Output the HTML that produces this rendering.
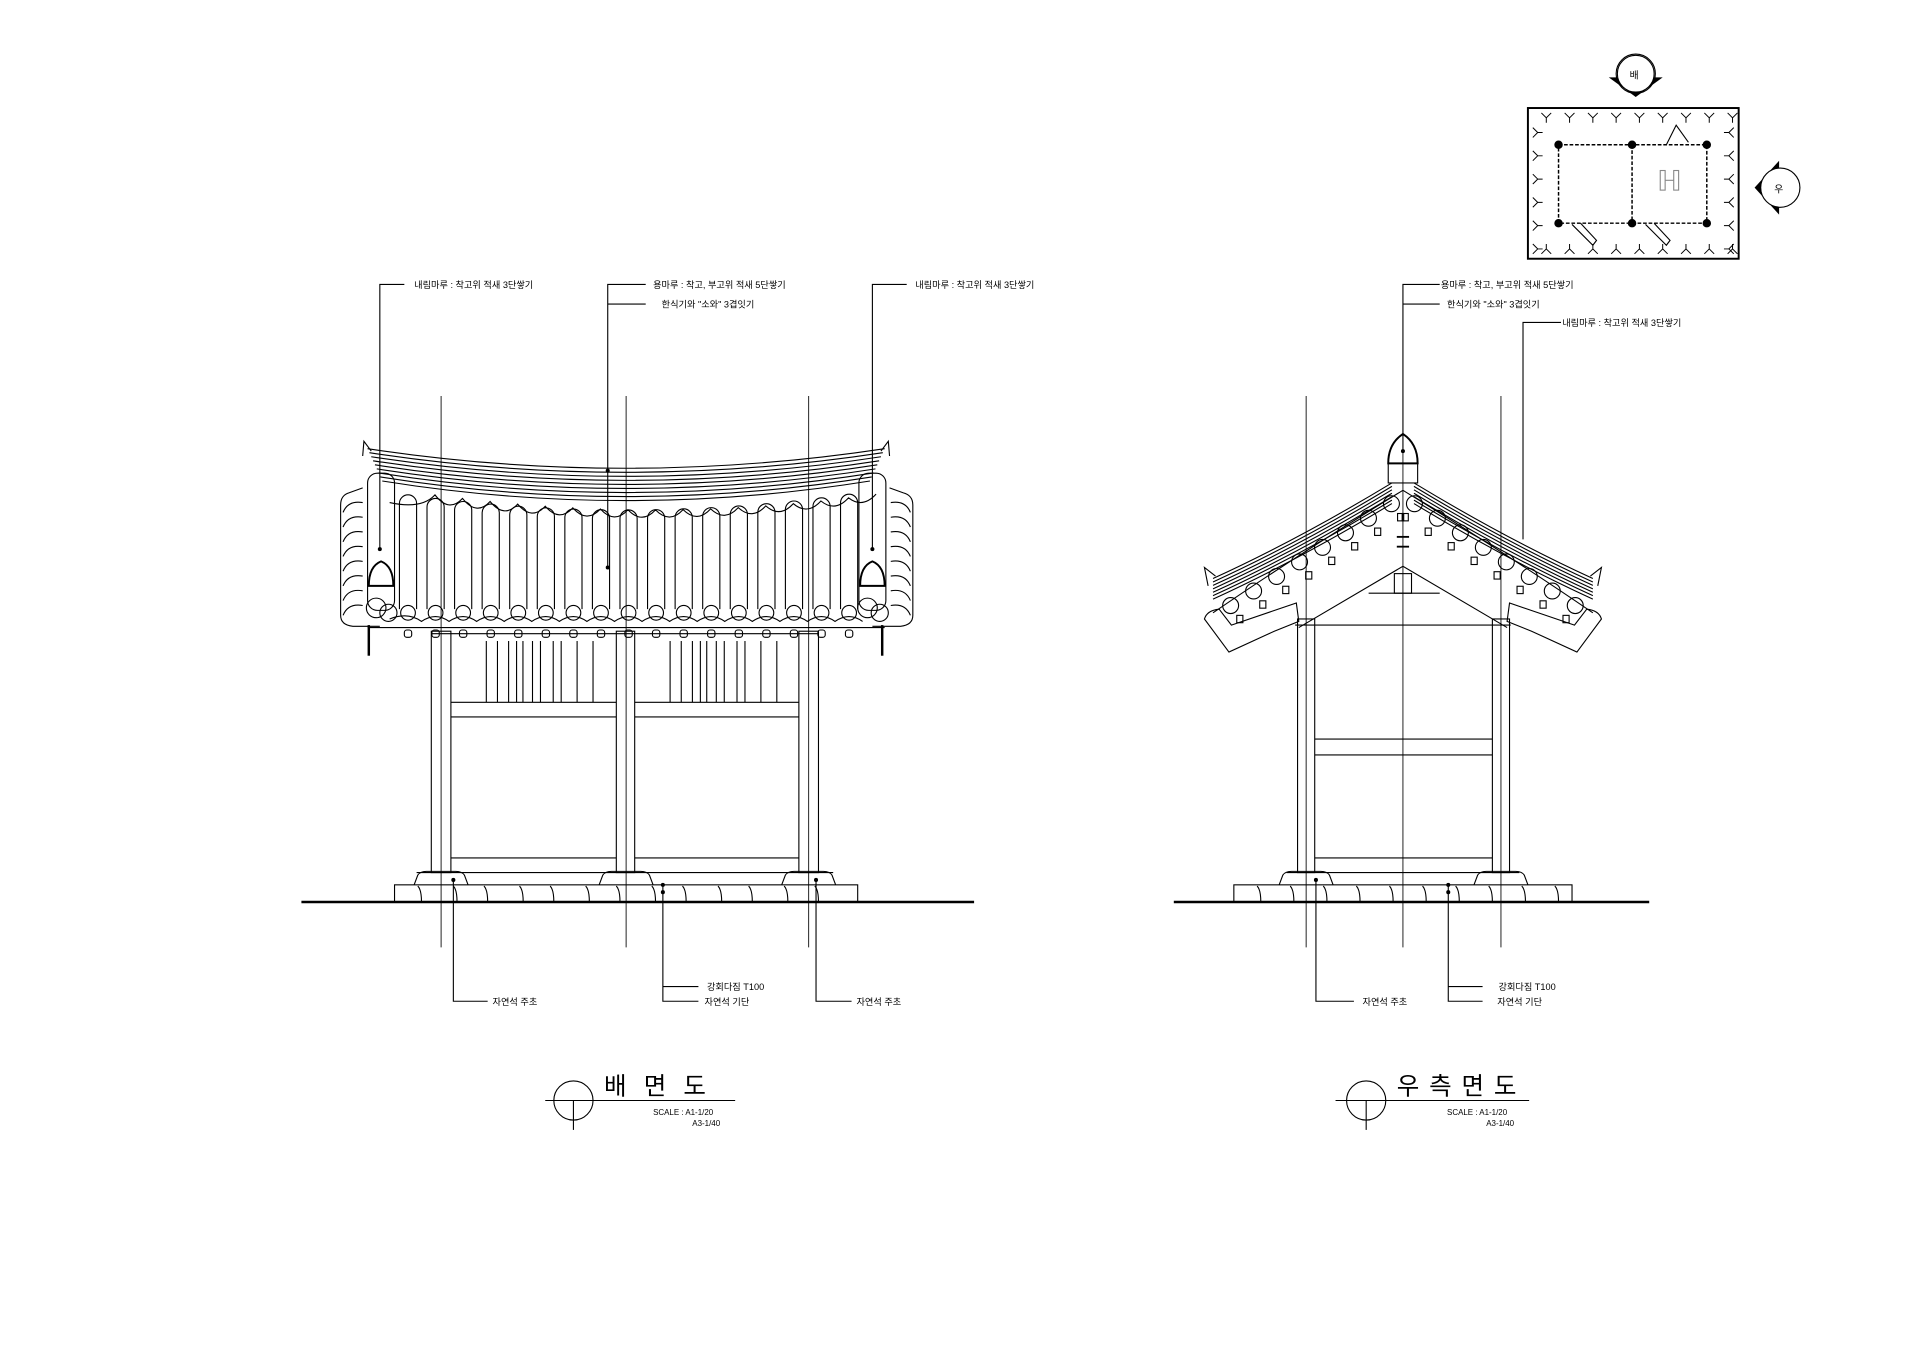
<!DOCTYPE html>
<html><head><meta charset="utf-8"><style>
html,body{margin:0;padding:0;background:#fff;}
svg{display:block}
text{font-family:"Liberation Sans","Noto Sans CJK KR",sans-serif;fill:#000;}
.l{font-size:7.5px}
</style></head><body>
<svg id="s" width="1920" height="1358" viewBox="0 0 1567 1108" xmlns="http://www.w3.org/2000/svg" fill="none" stroke="#000" stroke-width="0.9">
<rect x="0" y="0" width="1567" height="1108" fill="#fff" stroke="none"/>
<!-- LEFT labels -->
<polyline points="330,232 310,232 310,448"/><circle cx="310" cy="448" r="1.2" fill="#000"/>
<text class="l" x="338" y="235" stroke="none">내림마루 : 착고위 적새 3단쌓기</text>
<polyline points="527,232 496,232 496,463"/><line x1="496" y1="248" x2="527" y2="248"/>
<circle cx="496" cy="384" r="1.2" fill="#000"/><circle cx="496" cy="463" r="1.2" fill="#000"/>
<text class="l" x="533" y="235" stroke="none">용마루 : 착고, 부고위 적새 5단쌓기</text>
<text class="l" x="540" y="251" stroke="none">한식기와 "소와" 3겹잇기</text>
<polyline points="740,232 712,232 712,448"/><circle cx="712" cy="448" r="1.2" fill="#000"/>
<text class="l" x="747" y="235" stroke="none">내림마루 : 착고위 적새 3단쌓기</text>
<!-- centre lines -->
<g stroke-width="0.7"><line x1="360" y1="323" x2="360" y2="773"/><line x1="511" y1="323" x2="511" y2="773"/><line x1="660" y1="323" x2="660" y2="773"/></g>
<g id="lroof"></g>
<!-- columns left -->
<g>
<rect x="352" y="515" width="16" height="197"/><rect x="503" y="515" width="15" height="197"/><rect x="652" y="515" width="16" height="197"/>
<line x1="300" y1="512" x2="722" y2="512"/><line x1="352" y1="517" x2="668" y2="517"/>
<line x1="368" y1="573" x2="503" y2="573"/><line x1="368" y1="585" x2="503" y2="585"/>
<line x1="518" y1="573" x2="652" y2="573"/><line x1="518" y1="585" x2="652" y2="585"/>
<line x1="368" y1="700" x2="503" y2="700"/><line x1="518" y1="700" x2="652" y2="700"/>
<line x1="340" y1="712" x2="680" y2="712"/>
</g>
<g id="slats"></g>
<g id="lbase"></g>
<line x1="246" y1="736" x2="795" y2="736" stroke-width="2"/>
<!-- left bottom labels -->
<polyline points="370,718 370,817 398,817"/><circle cx="370" cy="718" r="1.2" fill="#000"/>
<text class="l" x="402" y="820" stroke="none">자연석 주초</text>
<polyline points="541,722 541,817 570,817"/><line x1="541" y1="805" x2="570" y2="805"/>
<circle cx="541" cy="722" r="1.2" fill="#000"/><circle cx="541" cy="728" r="1.2" fill="#000"/>
<text class="l" x="577" y="808" stroke="none">강회다짐 T100</text>
<text class="l" x="575" y="820" stroke="none">자연석 기단</text>
<polyline points="666,718 666,817 695,817"/><circle cx="666" cy="718" r="1.2" fill="#000"/>
<text class="l" x="699" y="820" stroke="none">자연석 주초</text>
<!-- left title -->
<circle cx="468" cy="898" r="16"/><line x1="445" y1="898" x2="600" y2="898"/><line x1="468" y1="898" x2="468" y2="922"/>
<text x="493" y="893" font-size="20" stroke="none" letter-spacing="14">배면도</text>
<text x="533" y="910" font-size="6.5" stroke="none">SCALE : A1-1/20</text>
<text x="565" y="919" font-size="6.5" stroke="none">A3-1/40</text>

<!-- RIGHT labels -->
<polyline points="1175,232 1145,232 1145,368"/><line x1="1145" y1="248" x2="1175" y2="248"/>
<circle cx="1145" cy="368" r="1.2" fill="#000"/>
<text class="l" x="1176" y="235" stroke="none">용마루 : 착고, 부고위 적새 5단쌓기</text>
<text class="l" x="1181" y="251" stroke="none">한식기와 "소와" 3겹잇기</text>
<polyline points="1274,263 1243,263 1243,440"/>
<text class="l" x="1275" y="266" stroke="none">내림마루 : 착고위 적새 3단쌓기</text>
<g stroke-width="0.7"><line x1="1066" y1="323" x2="1066" y2="773"/><line x1="1145" y1="323" x2="1145" y2="773"/><line x1="1225" y1="323" x2="1225" y2="773"/></g>
<g id="rroof"></g>
<g>
<rect x="1059" y="505" width="14" height="207"/><rect x="1218" y="505" width="14" height="207"/>
<line x1="1073" y1="603" x2="1218" y2="603"/><line x1="1073" y1="616" x2="1218" y2="616"/>
<line x1="1073" y1="700" x2="1218" y2="700"/><line x1="1050" y1="712" x2="1240" y2="712"/>
<line x1="1057" y1="510" x2="1233" y2="510"/>
<line x1="1117" y1="484" x2="1175" y2="484"/>
<polyline points="1060,512 1145,462 1230,512"/>
<rect x="1138" y="468" width="14" height="16"/>
</g>
<g id="rbase"></g>
<line x1="958" y1="736" x2="1346" y2="736" stroke-width="2"/>
<polyline points="1074,718 1074,817 1105,817"/><circle cx="1074" cy="718" r="1.2" fill="#000"/>
<text class="l" x="1112" y="820" stroke="none">자연석 주초</text>
<polyline points="1182,722 1182,817 1210,817"/><line x1="1182" y1="805" x2="1210" y2="805"/>
<circle cx="1182" cy="722" r="1.2" fill="#000"/><circle cx="1182" cy="728" r="1.2" fill="#000"/>
<text class="l" x="1223" y="808" stroke="none">강회다짐 T100</text>
<text class="l" x="1222" y="820" stroke="none">자연석 기단</text>
<circle cx="1115" cy="898" r="16"/><line x1="1090" y1="898" x2="1248" y2="898"/><line x1="1115" y1="898" x2="1115" y2="922"/>
<text x="1140" y="893" font-size="20" stroke="none" letter-spacing="8">우측면도</text>
<text x="1181" y="910" font-size="6.5" stroke="none">SCALE : A1-1/20</text>
<text x="1213" y="919" font-size="6.5" stroke="none">A3-1/40</text>

<!-- KEY PLAN -->
<rect x="1247" y="88" width="172" height="123" stroke-width="1.6"/>
<rect x="1272" y="118" width="121" height="64" stroke-width="1.2" stroke-dasharray="3,1.5"/>
<line x1="1332" y1="118" x2="1332" y2="182" stroke-width="1.2" stroke-dasharray="3,1.5"/>
<g fill="#000"><circle cx="1272" cy="118" r="3"/><circle cx="1332" cy="118" r="3"/><circle cx="1393" cy="118" r="3"/><circle cx="1272" cy="182" r="3"/><circle cx="1332" cy="182" r="3"/><circle cx="1393" cy="182" r="3"/></g>
<rect x="1355" y="139" width="4" height="16" stroke="#888"/><rect x="1366" y="139" width="4" height="16" stroke="#888"/><line x1="1359" y1="147" x2="1366" y2="147" stroke="#888"/>
<polyline points="1283,183 1300,200 1303,196 1290,182"/><polyline points="1343,183 1360,200 1363,196 1350,182"/>
<polyline points="1360,118 1368,102 1378,116"/>
<g id="ys" stroke-width="0.8"></g>
<circle cx="1335" cy="60" r="16"/>
<path d="M1313,63 L1357,63 L1335,79 Z" fill="#000" stroke="none"/>
<circle cx="1335" cy="60" r="15" fill="#fff"/>
<text x="1330" y="64" font-size="8" stroke="none">배</text>
<path d="M1452,131 L1452,175 L1432,153 Z" fill="#000" stroke="none"/>
<circle cx="1453" cy="153" r="16" fill="#fff"/>
<text x="1448" y="157" font-size="8" stroke="none">우</text>
</svg>
<script>
const NS="http://www.w3.org/2000/svg";
function el(p,t,a){const e=document.createElementNS(NS,t);for(const k in a)e.setAttribute(k,a[k]);document.getElementById(p).appendChild(e);return e;}
// left roof ridge lines
for(let i=0;i<9;i++){const o=i*3.3;el('lroof','path',{d:`M${300+i*1.5},${366+o} Q511,${398+o} ${722-i*1.5},${366+o}`});}
el('lroof','path',{d:'M296,372 L297,360 L303,368'});el('lroof','path',{d:'M726,372 L725,360 L719,368'});
// eave tiles
let wave='M318,410';
for(let i=0;i<17;i++){const cx=333+i*22.5;const t=402+14*(1-Math.pow((cx-511)/190,2));
 el('lroof','path',{d:`M${cx-7},497 L${cx-7},${t+7} A7,7 0 0 1 ${cx+7},${t+7} L${cx+7},497`});
 el('lroof','circle',{cx:cx,cy:500,r:6});
 wave+=` Q${cx+11},${t+12} ${cx+22},${t}`;
 el('lroof','rect',{x:cx-3,y:514,width:6,height:6,rx:2});
}
el('lroof','path',{d:wave});
let b='M318,505';for(let i=0;i<17;i++){const cx=333+i*22.5;b+=` Q${cx},499 ${cx+11},507`;}el('lroof','path',{d:b});
// side hips
el('lroof','path',{d:'M296,398 L285,402 Q278,404 278,412 L278,502 Q278,510 288,511 L310,511'});
el('lroof','path',{d:'M726,398 L737,402 Q745,404 745,412 L745,502 Q745,510 735,511 L712,511'});
for(let i=0;i<8;i++){const y=410+i*12;el('lroof','path',{d:`M280,${y+8} Q284,${y-2} 296,${y}`});el('lroof','path',{d:`M743,${y+8} Q739,${y-2} 727,${y}`});}
[[300,322],[701,723]].forEach(([a,c])=>{el('lroof','rect',{x:a,y:386,width:c-a,height:112,rx:8});
 const m=(a+c)/2;el('lroof','path',{d:`M${a+1},478 Q${a+1},462 ${m},458 Q${c-1},462 ${c-1},478 Z`,'stroke-width':1.6});
 el('lroof','circle',{cx:m-4,cy:496,r:8});el('lroof','circle',{cx:m+6,cy:500,r:7});});
el('lroof','line',{x1:301,y1:510,x2:301,y2:535,'stroke-width':2});el('lroof','line',{x1:720,y1:510,x2:720,y2:535,'stroke-width':2});
// slats
[[370,500],[520,650]].forEach(([a,c])=>{const xs=[0,0.13,0.2,0.27,0.32,0.36,0.42,0.47,0.55,0.6,0.7,0.8];xs.forEach(f=>{if(f>0){const x=a+f*(c-a)+10;el('slats','line',{x1:x,y1:523,x2:x,y2:573});}});});
// bases
function base(g,x1,x2,cols){el(g,'rect',{x:x1,y:722,width:x2-x1,height:14});
 for(let x=x1+22;x<x2-5;x+=24+((x*7)%9)){el(g,'path',{d:`M${x-3},723 Q${x},726 ${x},736`});}
 cols.forEach(c=>el(g,'path',{d:`M${c-22},722 L${c-19},714 Q${c-17},711 ${c-12},711 L${c+12},711 Q${c+17},711 ${c+19},714 L${c+22},722`}));}
base('lbase',322,700,[360,511,660]);base('rbase',1007,1283,[1066,1225]);
// right roof
el('rroof','path',{d:'M1133,378 Q1133,362 1145,354 Q1157,362 1157,378 Z','stroke-width':1.6});
el('rroof','rect',{x:1133,y:378,width:24,height:16});
for(let i=0;i<7;i++){const o=i*2.8;
 el('rroof','path',{d:`M1136,${394+o} Q1060,${440+o} ${990},${472+o}`});
 el('rroof','path',{d:`M1154,${394+o} Q1230,${440+o} ${1300},${472+o}`});}
el('rroof','path',{d:'M986,478 L983,463 L992,470'});el('rroof','path',{d:'M1304,478 L1307,463 L1298,470'});
el('rroof','path',{d:'M1145,400 Q1060,452 990,500'});el('rroof','path',{d:'M1145,400 Q1230,452 1300,500'});
for(let i=0;i<8;i++){const t=(i+0.5)/8;
 const lx=1145-t*150, ly=403+t*95-12*Math.sin(Math.PI*t)*0;
 el('rroof','circle',{cx:lx,cy:ly+2,r:6.5});el('rroof','rect',{x:lx+5,y:ly+10,width:5,height:6});
 const rx=1145+t*150;el('rroof','circle',{cx:rx,cy:ly+2,r:6.5});el('rroof','rect',{x:rx-10,y:ly+10,width:5,height:6});}
el('rroof','path',{d:'M983,505 Q985,498 995,497 L1005,510 L1058,492 L1060,507 L1040,515 L1003,532 Z'});
el('rroof','path',{d:'M1307,505 Q1305,498 1295,497 L1285,510 L1232,492 L1230,507 L1250,515 L1287,532 Z'});
el('rroof','line',{x1:1140,y1:438,x2:1150,y2:438,'stroke-width':1.5});el('rroof','line',{x1:1140,y1:446,x2:1150,y2:446,'stroke-width':1.5});
// Y symbols plan
function Y(x,y,rot){el('ys','path',{d:'M-4,-4 L0,0 L4,-4 M0,0 L0,4',transform:`translate(${x},${y}) rotate(${rot})`});}
for(let i=0;i<9;i++){Y(1262+i*19,96,0);Y(1262+i*19,203,180);}
for(let i=0;i<6;i++){Y(1255,108+i*19,270);Y(1411,108+i*19,90);}
</script>
</body></html>
